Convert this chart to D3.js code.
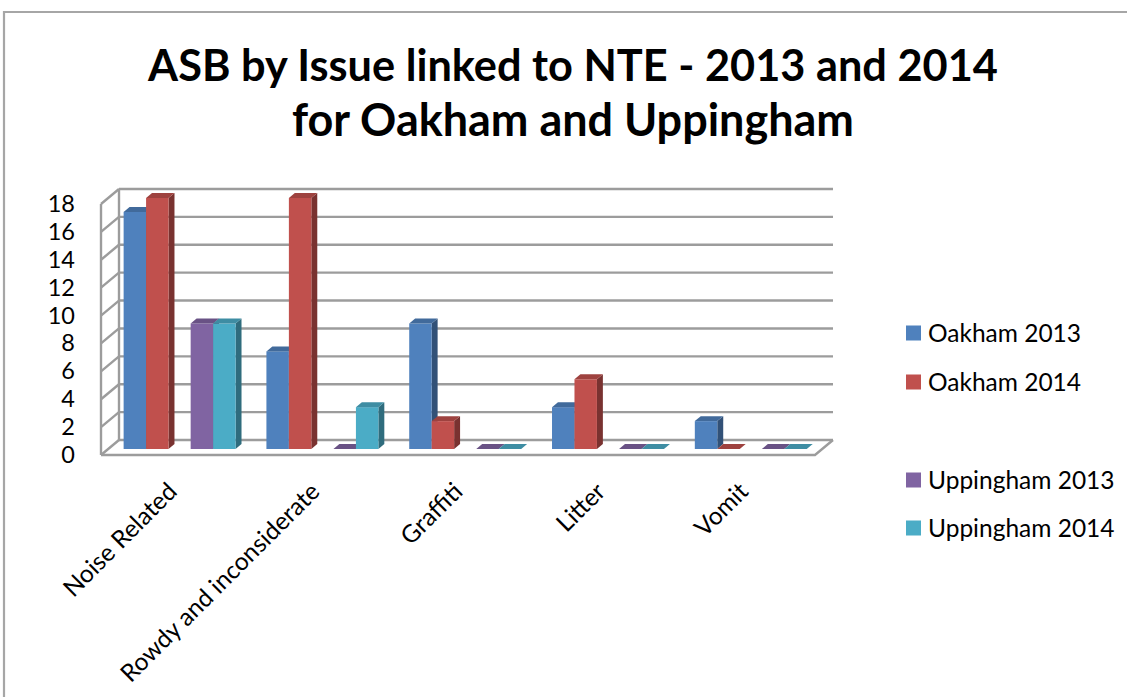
<!DOCTYPE html>
<html><head><meta charset="utf-8">
<script src="https://cdn.jsdelivr.net/npm/d3@7"></script>
<style>
html,body{margin:0;padding:0;background:#fff;}
svg{display:block;}
text{font-family:Lato,"Open Sans",sans-serif;fill:#000;}
</style></head>
<body>
<svg id="chart" width="1127" height="697"></svg>
<script>
const categories = ["Noise Related","Rowdy and inconsiderate","Graffiti","Litter","Vomit"];
const seriesNames = ["Oakham 2013","Oakham 2014","Uppingham 2013","Uppingham 2014"];
const towns = ["Oakham","Uppingham"];
const oakham2013 = [17,7,9,3,2];
const oakham2014 = [18,18,2,5,0];
const uppingham2013 = [9,0,0,0,0];
const uppingham2014 = [9,3,0,0,0];
const yTicks = [0,2,4,6,8,10,12,14,16,18];
const seriesColors = ["#4F81BD","#C0504D","#8064A2","#4BACC6"];
const titleLines = ["ASB by Issue linked to NTE - 2013 and 2014","for Oakham and Uppingham"];

const seriesValues = [oakham2013, oakham2014, uppingham2013, uppingham2014];

const svg = d3.select("#chart");

// chart border
svg.append("path").attr("d","M4,697V12H1127").attr("fill","none").attr("stroke","#a6a6a6").attr("stroke-width",2.2);

// 3D geometry
const depthDX = 18, depthDY = -15;
const x = d3.scaleBand().domain(categories).range([101, 815]).padding(0);
const townScale = d3.scaleBand().domain(towns).range([0, x.bandwidth()]).paddingInner(0.33).paddingOuter(0.23);
const yearScale = d3.scaleBand().domain([0,1]).range([0, townScale.bandwidth()]).padding(0);
const y = d3.scaleLinear().domain([0,18]).range([455, 204]);

const grid = svg.append("g").attr("fill","none").attr("stroke","#9c9c9c").attr("stroke-width",2.4);
const x0 = x.range()[0], x1 = x.range()[1];
// back wall gridlines
yTicks.forEach(v => {
  grid.append("line").attr("x1", x0+depthDX).attr("x2", x1+depthDX)
    .attr("y1", y(v)+depthDY).attr("y2", y(v)+depthDY);
  grid.append("line").attr("x1", x0).attr("x2", x0+depthDX)
    .attr("y1", y(v)).attr("y2", y(v)+depthDY);
});
// left wall verticals
grid.append("line").attr("x1",x0).attr("x2",x0).attr("y1",y(0)).attr("y2",y(18));
grid.append("line").attr("x1",x0+depthDX).attr("x2",x0+depthDX).attr("y1",y(0)+depthDY).attr("y2",y(18)+depthDY);
// floor
grid.append("path").attr("d",`M${x0},${y(0)}H${x1}L${x1+depthDX},${y(0)+depthDY}`);

// y axis labels
const yAxis = d3.axisLeft(y).tickValues(yTicks).tickSize(0).tickPadding(26);
const yg = svg.append("g").attr("transform",`translate(${x0},0)`).call(yAxis);
yg.select(".domain").remove();
yg.selectAll("text").attr("font-family","Lato").attr("font-size",23.5).attr("fill","#000");

// bars
const f0 = 0.4, bd = 0.33;
const ox = depthDX*f0, oy = depthDY*f0;
const bx = depthDX*bd, by = depthDY*bd;
const barsG = svg.append("g");
categories.forEach((cat, ci) => {
  seriesValues.forEach((vals, si) => {
    const v = vals[ci];
    const town = towns[si < 2 ? 0 : 1];
    const yr = si % 2;
    const w = yearScale.bandwidth();
    const xl = x(cat) + townScale(town) + yearScale(yr) + ox;
    const yt = y(v) + oy, yb = y(0) + oy;
    const c = d3.color(seriesColors[si]);
    const g = barsG.append("g");
    g.append("path").attr("d",`M${xl+w},${yt}L${xl+w+bx},${yt+by}L${xl+w+bx},${yb+by}L${xl+w},${yb}Z`)
      .attr("fill", c.darker(1.3));
    if (v > 0) {
      g.append("rect").attr("x", xl).attr("y", yt).attr("width", w).attr("height", yb-yt)
        .attr("fill", c);
    }
    g.append("path").attr("d",`M${xl},${yt}L${xl+w},${yt}L${xl+w+bx},${yt+by}L${xl+bx},${yt+by}Z`)
      .attr("fill", c.darker(0.55));
  });
});

// x labels
const xlg = svg.append("g");
categories.forEach(cat => {
  const cx = x(cat) + x.bandwidth()/2;
  xlg.append("text").attr("transform",`translate(${cx},${487}) rotate(-45)`)
    .attr("text-anchor","end").attr("dy","0.35em")
    .attr("font-size",24.5).text(cat);
});

// title
const titleG = svg.append("g");
const titleWidths = [850, 562];
titleLines.forEach((t,i) => {
  const el = titleG.append("text").attr("x",573).attr("y", i===0 ? 81 : 136)
    .attr("text-anchor","middle").attr("font-weight","bold").attr("font-size",42).text(t);
  const w = el.node().getComputedTextLength();
  el.attr("font-size", 42*titleWidths[i]/w);
});

// legend
const legendY = [333, 382, 480, 528];
const lg = svg.append("g");
seriesNames.forEach((n,i) => {
  lg.append("rect").attr("x",906).attr("y",legendY[i]-7.5).attr("width",15).attr("height",15).attr("fill",seriesColors[i]);
  lg.append("text").attr("x",928).attr("y",legendY[i]).attr("dy","0.35em").attr("font-size",24.5).text(n);
});
</script>
</body></html>
